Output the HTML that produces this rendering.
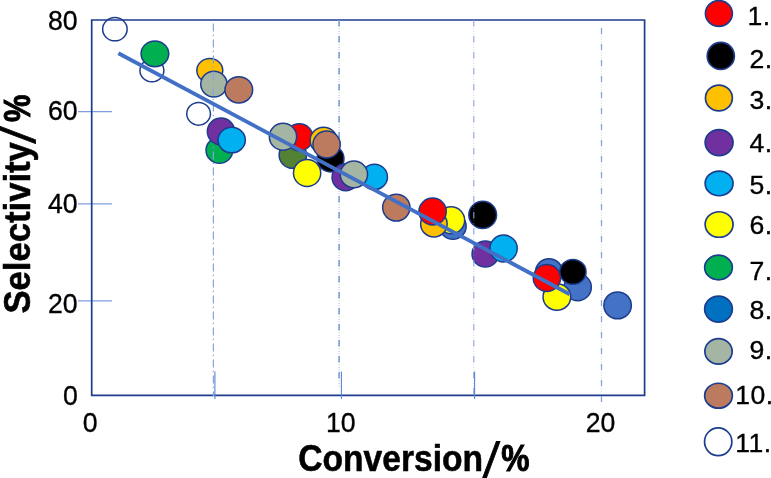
<!DOCTYPE html>
<html lang="en"><head><meta charset="utf-8"><title>Selectivity vs Conversion</title>
<style>
html,body{margin:0;padding:0;background:#fff;}
body{width:771px;height:478px;overflow:hidden;}
svg{display:block;}
text{font-family:"Liberation Sans",sans-serif;fill:#000;}
.b{font-weight:bold;font-size:36px;stroke:#000;stroke-width:0.55px;}
.s{font-size:49px;font-weight:normal;stroke-width:0.8px;}
.p{stroke-width:1px;}
.n{font-size:28px;stroke:#000;stroke-width:0.35px;}
.l{font-size:26.6px;stroke:#000;stroke-width:0.35px;letter-spacing:0.5px;}
</style></head><body>
<svg width="771" height="478" viewBox="0 0 771 478">
<rect width="771" height="478" fill="#fff"/>

<line x1="78" y1="111.6" x2="112" y2="111.6" stroke="#7F9FE0" stroke-width="1.3"/>
<line x1="78" y1="203.8" x2="112" y2="203.8" stroke="#7F9FE0" stroke-width="1.3"/>
<line x1="78" y1="300.9" x2="112" y2="300.9" stroke="#7F9FE0" stroke-width="1.3"/>
<path d="M91.7 20 H644.6 V395.4 H91.7 Z" fill="none" stroke="#1C3C8E" stroke-width="1.7"/>
<line x1="339.1" y1="20.1" x2="339.1" y2="387" stroke="#7C9BDA" stroke-width="1.6" stroke-dasharray="6.3 9.7"/>
<line x1="339.1" y1="28.400000000000002" x2="339.1" y2="387" stroke="#7C9BDA" stroke-opacity="0.4" stroke-width="1.6" stroke-dasharray="1 1.6 1 1.6 1 9.8"/>
<ellipse cx="114.9" cy="29.2" rx="12.25" ry="11.65" fill="none" stroke="#1C3C8E" stroke-width="1.5"/>
<ellipse cx="151.9" cy="70.5" rx="11.95" ry="11.35" fill="#FFFFFF" stroke="#1C3C8E" stroke-width="1.5"/>
<ellipse cx="154.9" cy="53.8" rx="13.85" ry="12.85" fill="#00B050" stroke="#1C3C8E" stroke-width="1.5"/>
<ellipse cx="209.8" cy="70.5" rx="12.95" ry="11.95" fill="#FFC000" stroke="#1C3C8E" stroke-width="1.5"/>
<ellipse cx="213.9" cy="84.1" rx="13.15" ry="12.95" fill="#A5B5A3" stroke="#1C3C8E" stroke-width="1.5"/>
<ellipse cx="238.8" cy="89.8" rx="13.85" ry="13.15" fill="#BC7A5E" stroke="#1C3C8E" stroke-width="1.5"/>
<ellipse cx="198.6" cy="113.8" rx="11.85" ry="11.35" fill="#FFFFFF" stroke="#1C3C8E" stroke-width="1.5"/>
<ellipse cx="219.4" cy="150.2" rx="13.35" ry="13.05" fill="#00B050" stroke="#1C3C8E" stroke-width="1.5"/>
<line x1="213.4" y1="23.5" x2="213.4" y2="396" stroke="#86A3DD" stroke-width="1.2" stroke-dasharray="8 3.2 1.4 3.4"/>
<ellipse cx="221.0" cy="131.5" rx="13.65" ry="13.45" fill="#7030A0" stroke="#1C3C8E" stroke-width="1.5"/>
<ellipse cx="231.7" cy="140.1" rx="13.65" ry="12.75" fill="#00B0F0" stroke="#1C3C8E" stroke-width="1.5"/>
<ellipse cx="292.8" cy="154.9" rx="13.65" ry="13.45" fill="#548235" stroke="#1C3C8E" stroke-width="1.5"/>
<ellipse cx="299.3" cy="137.2" rx="13.65" ry="13.45" fill="#FF0000" stroke="#1C3C8E" stroke-width="1.5"/>
<ellipse cx="283.0" cy="136.7" rx="13.65" ry="13.45" fill="#A5B5A3" stroke="#1C3C8E" stroke-width="1.5"/>
<ellipse cx="307.1" cy="173.0" rx="13.65" ry="13.45" fill="#FFFF00" stroke="#1C3C8E" stroke-width="1.5"/>
<ellipse cx="323.6" cy="140.4" rx="13.45" ry="13.25" fill="#FFC000" stroke="#1C3C8E" stroke-width="1.5"/>
<ellipse cx="330.5" cy="158.7" rx="13.45" ry="13.25" fill="#000000" stroke="#1C3C8E" stroke-width="1.5"/>
<ellipse cx="326.6" cy="144.5" rx="13.65" ry="13.45" fill="#BC7A5E" stroke="#1C3C8E" stroke-width="1.5"/>
<ellipse cx="345.7" cy="177.3" rx="13.65" ry="13.45" fill="#7030A0" stroke="#1C3C8E" stroke-width="1.5"/>
<ellipse cx="374.4" cy="176.9" rx="13.05" ry="12.65" fill="#00B0F0" stroke="#1C3C8E" stroke-width="1.5"/>
<ellipse cx="353.9" cy="174.4" rx="13.65" ry="13.35" fill="#A5B5A3" stroke="#1C3C8E" stroke-width="1.5"/>
<ellipse cx="396.3" cy="207.6" rx="13.65" ry="13.45" fill="#BC7A5E" stroke="#1C3C8E" stroke-width="1.5"/>
<ellipse cx="452.9" cy="226.2" rx="13.25" ry="13.05" fill="#4472C4" stroke="#1C3C8E" stroke-width="1.5"/>
<ellipse cx="451.0" cy="220.3" rx="13.65" ry="13.45" fill="#FFFF00" stroke="#1C3C8E" stroke-width="1.5"/>
<ellipse cx="433.9" cy="223.9" rx="13.25" ry="13.05" fill="#FFC000" stroke="#1C3C8E" stroke-width="1.5"/>
<ellipse cx="432.6" cy="211.5" rx="13.65" ry="13.45" fill="#FF0000" stroke="#1C3C8E" stroke-width="1.5"/>
<ellipse cx="482.7" cy="214.9" rx="13.85" ry="13.55" fill="#000000" stroke="#1C3C8E" stroke-width="1.5"/>
<ellipse cx="485.3" cy="254.0" rx="13.25" ry="13.05" fill="#7030A0" stroke="#1C3C8E" stroke-width="1.5"/>
<ellipse cx="503.6" cy="248.5" rx="13.65" ry="13.45" fill="#00B0F0" stroke="#1C3C8E" stroke-width="1.5"/>
<ellipse cx="549.0" cy="272.0" rx="13.45" ry="13.25" fill="#4472C4" stroke="#1C3C8E" stroke-width="1.5"/>
<ellipse cx="577.7" cy="287.3" rx="13.65" ry="13.45" fill="#4472C4" stroke="#1C3C8E" stroke-width="1.5"/>
<ellipse cx="556.9" cy="297.0" rx="13.85" ry="13.25" fill="#FFFF00" stroke="#1C3C8E" stroke-width="1.5"/>
<ellipse cx="546.9" cy="278.0" rx="13.65" ry="13.45" fill="#FF0000" stroke="#1C3C8E" stroke-width="1.5"/>
<ellipse cx="572.9" cy="271.9" rx="13.15" ry="12.45" fill="#000000" stroke="#1C3C8E" stroke-width="1.5"/>
<ellipse cx="617.6" cy="305.4" rx="13.75" ry="13.45" fill="#4472C4" stroke="#1C3C8E" stroke-width="1.5"/>
<line x1="473.8" y1="20.1" x2="473.8" y2="396" stroke="#86A3DD" stroke-width="1.1" stroke-dasharray="6.3 9.7"/>
<line x1="473.8" y1="28.400000000000002" x2="473.8" y2="396" stroke="#86A3DD" stroke-opacity="0.4" stroke-width="1.1" stroke-dasharray="1 1.6 1 1.6 1 9.8"/>
<line x1="601.5" y1="27.9" x2="601.5" y2="402" stroke="#86A3DD" stroke-width="1.3" stroke-dasharray="6.3 9.7"/>
<line x1="601.5" y1="36.2" x2="601.5" y2="402" stroke="#86A3DD" stroke-opacity="0.4" stroke-width="1.3" stroke-dasharray="1 1.6 1 1.6 1 9.8"/>
<line x1="214.9" y1="371.4" x2="214.9" y2="399" stroke="#5B84D2" stroke-width="1.1"/>
<line x1="341.4" y1="371.4" x2="341.4" y2="399" stroke="#5B84D2" stroke-width="1.1"/>
<line x1="474.6" y1="371.4" x2="474.6" y2="399" stroke="#5B84D2" stroke-width="1.1"/>
<line x1="118.4" y1="53.2" x2="569.7" y2="294.2" stroke="#4170C6" stroke-width="3.8"/>
<text class="n" x="48" y="29.6" textLength="29.6" lengthAdjust="spacingAndGlyphs">80</text>
<text class="n" x="48" y="120.4" textLength="29.6" lengthAdjust="spacingAndGlyphs">60</text>
<text class="n" x="48" y="212.6" textLength="29.6" lengthAdjust="spacingAndGlyphs">40</text>
<text class="n" x="48" y="313.0" textLength="29.6" lengthAdjust="spacingAndGlyphs">20</text>
<text class="n" x="63" y="404.7" textLength="14.8" lengthAdjust="spacingAndGlyphs">0</text>
<text class="n" x="82.8" y="432" textLength="14.8" lengthAdjust="spacingAndGlyphs">0</text>
<text class="n" x="325.9" y="432" textLength="29.6" lengthAdjust="spacingAndGlyphs">10</text>
<text class="n" x="585.8" y="432" textLength="29.6" lengthAdjust="spacingAndGlyphs">20</text>
<g transform="translate(298.2 471.2)"><text class="b" x="0" y="0" textLength="184.9" lengthAdjust="spacingAndGlyphs">Conversion</text><text class="b s" transform="translate(184.5 5.6) skewX(-6)">/</text><text class="b p" x="203.1" y="0" textLength="28.2" lengthAdjust="spacingAndGlyphs">%</text></g>
<g transform="translate(29.6 313.6) rotate(-90)"><text class="b" x="0" y="0" textLength="171.5" lengthAdjust="spacingAndGlyphs">Selectivity</text><text class="b s" transform="translate(170.2 5.6) skewX(-6)">/</text><text class="b p" x="191.5" y="0" textLength="27.4" lengthAdjust="spacingAndGlyphs">%</text></g>
<ellipse cx="718.9" cy="13.5" rx="13.45" ry="12.95" fill="#FF0000" stroke="#1C3C8E" stroke-width="1.7"/>
<text class="l" x="747.5" y="24.8">1.</text>
<ellipse cx="720.8" cy="55.9" rx="13.55" ry="13.55" fill="#000000" stroke="#1C3C8E" stroke-width="1.7"/>
<text class="l" x="749.5" y="68">2.</text>
<ellipse cx="718.9" cy="98.0" rx="13.45" ry="12.95" fill="#FFC000" stroke="#1C3C8E" stroke-width="1.7"/>
<text class="l" x="749.5" y="109">3.</text>
<ellipse cx="719.1" cy="142.6" rx="13.95" ry="12.95" fill="#7030A0" stroke="#1C3C8E" stroke-width="1.7"/>
<text class="l" x="749.5" y="151.8">4.</text>
<ellipse cx="719.1" cy="183.4" rx="13.95" ry="12.35" fill="#00B0F0" stroke="#1C3C8E" stroke-width="1.7"/>
<text class="l" x="749.5" y="193.8">5.</text>
<ellipse cx="719.1" cy="224.5" rx="13.95" ry="12.75" fill="#FFFF00" stroke="#1C3C8E" stroke-width="1.7"/>
<text class="l" x="749.5" y="234">6.</text>
<ellipse cx="718.5" cy="267.5" rx="13.85" ry="12.35" fill="#00B050" stroke="#1C3C8E" stroke-width="1.7"/>
<text class="l" x="749.5" y="279.8">7.</text>
<ellipse cx="718.5" cy="309.1" rx="13.85" ry="12.95" fill="#0070C0" stroke="#1C3C8E" stroke-width="1.7"/>
<text class="l" x="749.5" y="318.8">8.</text>
<ellipse cx="718.5" cy="351.4" rx="13.65" ry="12.75" fill="#A5B5A3" stroke="#1C3C8E" stroke-width="1.7"/>
<text class="l" x="749.5" y="359">9.</text>
<ellipse cx="718.5" cy="395.7" rx="13.85" ry="12.45" fill="#BC7A5E" stroke="#1C3C8E" stroke-width="1.7"/>
<text class="l" x="735.2" y="404.3">10.</text>
<ellipse cx="718.2" cy="441.8" rx="13.65" ry="13.85" fill="#FFFFFF" stroke="#1C3C8E" stroke-width="1.7"/>
<text class="l" x="735.2" y="452">11.</text>
</svg></body></html>
